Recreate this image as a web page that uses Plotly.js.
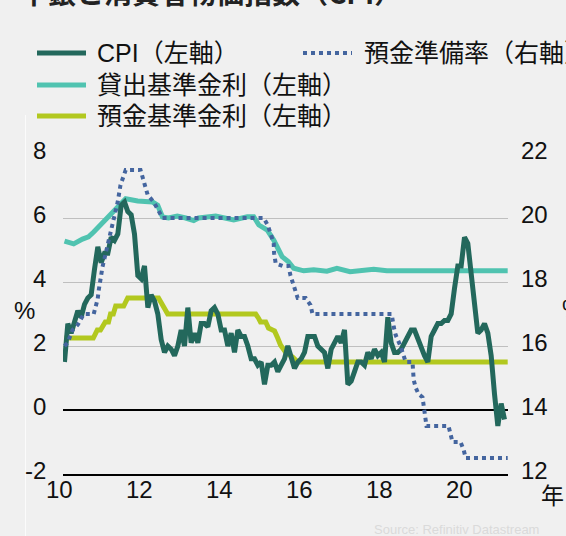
<!DOCTYPE html>
<html>
<head>
<meta charset="utf-8">
<script src="https://cdn.plot.ly/plotly-3.0.1.min.js"></script>
<style>
html,body{margin:0;padding:0;background:#f0f0f0;}
#chart{width:566px;height:536px;}
</style>
</head>
<body>
<div id="chart"></div>
<script>
// ---- Data ----
// CPI (YoY %, monthly, Jan 2010 - Jan 2021)
const cpiStartYear = 2010;
const cpiValues = [
  1.5, 2.7, 2.4, 2.8, 3.1, 2.9, 3.3, 3.5, 3.6, 4.4, 5.1, 4.6,
  4.9, 4.9, 5.4, 5.3, 5.5, 6.4, 6.5, 6.2, 6.1, 5.5, 4.2, 4.1,
  4.5, 3.2, 3.6, 3.4, 3.0, 2.2, 1.8, 2.0, 1.9, 1.7, 2.0, 2.5,
  2.0, 3.2, 2.1, 2.4, 2.1, 2.7, 2.7, 2.6, 3.1, 3.2, 3.0, 2.5,
  2.5, 2.0, 2.4, 1.8, 2.5, 2.3, 2.3, 2.0, 1.6, 1.6, 1.4, 1.5,
  0.8, 1.4, 1.4, 1.5, 1.2, 1.4, 1.6, 2.0, 1.6, 1.3, 1.5, 1.6,
  1.8, 2.3, 2.3, 2.3, 2.0, 1.9, 1.8, 1.3, 1.9, 2.1, 2.3, 2.1,
  2.5, 0.8, 0.9, 1.2, 1.5, 1.5, 1.4, 1.8, 1.6, 1.9, 1.7, 1.8,
  1.5, 2.9, 2.1, 1.8, 1.8, 1.9, 2.1, 2.3, 2.5, 2.5, 2.2, 1.9,
  1.7, 1.5, 2.3, 2.5, 2.7, 2.7, 2.8, 2.8, 3.0, 3.8, 4.5, 4.5,
  5.4, 5.2, 4.3, 3.3, 2.4, 2.5, 2.7, 2.4, 1.7, 0.5, -0.5, 0.2,
  -0.3
];

// Benchmark lending rate (left axis, %)
const lendYears = [2010.0, 2010.23, 2010.45, 2010.6, 2010.73, 2010.9, 2011.08, 2011.23, 2011.4, 2011.53,
  2011.83, 2012.2, 2012.33, 2012.45, 2012.6, 2012.82, 2013.03, 2013.23, 2013.35, 2013.78, 2014.23,
  2014.57, 2014.73, 2014.86, 2015.07, 2015.23, 2015.44, 2015.6, 2015.73, 2015.98, 2016.23, 2016.56,
  2016.81, 2017.14, 2017.73, 2018.06, 2021.08];
const lendValues = [5.28, 5.19, 5.34, 5.41, 5.56, 5.78, 6.0, 6.16, 6.4, 6.6,
  6.53, 6.5, 6.4, 6.03, 6.0, 6.06, 6.0, 5.92, 6.0, 6.06, 5.94,
  6.04, 6.04, 5.78, 5.62, 5.31, 4.79, 4.63, 4.43, 4.35, 4.38, 4.34,
  4.43, 4.32, 4.4, 4.35, 4.35];

// Benchmark deposit rate (left axis, %)
const depYears = [2010.0, 2010.72, 2010.82, 2010.9, 2011.02, 2011.1, 2011.15, 2011.22, 2011.28, 2011.48,
  2011.58, 2012.35, 2012.58, 2014.78, 2014.85, 2014.9, 2015.03, 2015.1, 2015.2, 2015.25, 2015.33,
  2015.4, 2015.53, 2015.6, 2015.7, 2015.83, 2021.08];
const depValues = [2.25, 2.25, 2.5, 2.5, 2.75, 2.75, 3.0, 3.0, 3.25, 3.25,
  3.5, 3.5, 3.0, 3.0, 2.87, 2.75, 2.75, 2.56, 2.5, 2.47, 2.25,
  2.03, 1.8, 1.75, 1.66, 1.5, 1.5];

// Reserve requirement ratio (right axis, %)
const rrrYears = [2010.0, 2010.08, 2010.2, 2010.33, 2010.48, 2010.73, 2010.83, 2010.85, 2010.95, 2011.03,
  2011.1, 2011.2, 2011.28, 2011.33, 2011.4, 2011.53, 2011.9, 2011.98, 2012.08, 2012.23, 2012.35,
  2012.45, 2014.98, 2015.08, 2015.15, 2015.23, 2015.24, 2015.28, 2015.45, 2015.6, 2015.65, 2015.7,
  2015.78, 2015.83, 2016.03, 2016.15, 2016.2, 2018.18, 2018.23, 2018.28, 2018.4, 2018.53, 2018.7,
  2018.73, 2018.78, 2018.85, 2018.95, 2018.98, 2019.03, 2019.05, 2019.6, 2019.65, 2019.7, 2019.9,
  2019.98, 2020.03, 2021.08];
const rrrValues = [16.0, 16.1, 16.5, 16.66, 17.0, 17.0, 17.47, 17.7, 18.47, 18.9,
  19.25, 19.72, 20.16, 20.5, 21.03, 21.5, 21.5, 21.1, 20.72, 20.5, 20.19,
  20.0, 20.0, 19.78, 19.52, 19.21, 18.9, 18.58, 18.5, 18.5, 18.2, 18.0,
  17.75, 17.5, 17.5, 17.28, 17.0, 17.0, 16.6, 16.34, 16.0, 15.5, 15.5,
  14.94, 14.7, 14.5, 14.4, 14.1, 13.84, 13.5, 13.5, 13.2, 13.0, 13.0,
  12.75, 12.5, 12.5];

const xTickVals = [2010, 2012, 2014, 2016, 2018, 2020];
const xTickText = ['10', '12', '14', '16', '18', '20'];
const yLeftTicks = [-2, 0, 2, 4, 6, 8];
const yLeftText = ['-2', '0', '2', '4', '6', '8'];
const yRightTicks = [12, 14, 16, 18, 20, 22];
const yRightText = ['12', '14', '16', '18', '20', '22'];

const seriesNames = {
  cpi: 'CPI（左軸）',
  rrr: '預金準備率（右軸）',
  lend: '貸出基準金利（左軸）',
  dep: '預金基準金利（左軸）'
};

// ---- Styles ----
const C_CPI = '#23685c';
const C_LEND = '#50c3b0';
const C_DEP = '#b2c81f';
const C_RRR = '#44659f';
const TICK_FONT = {family: 'Liberation Sans, Arial, sans-serif', size: 24, color: '#111'};
const TEXT_FAMILY = 'Liberation Sans, Noto Sans CJK JP, sans-serif';

const cpiYears = cpiValues.map((_, i) => cpiStartYear + i / 12);

const traces = [
  {x: depYears, y: depValues, type: 'scatter', mode: 'lines', name: seriesNames.dep,
   line: {color: C_DEP, width: 5}, yaxis: 'y'},
  {x: lendYears, y: lendValues, type: 'scatter', mode: 'lines', name: seriesNames.lend,
   line: {color: C_LEND, width: 5}, yaxis: 'y'},
  {x: cpiYears, y: cpiValues, type: 'scatter', mode: 'lines', name: seriesNames.cpi,
   line: {color: C_CPI, width: 5}, yaxis: 'y'},
  {x: rrrYears, y: rrrValues, type: 'scatter', mode: 'lines', name: seriesNames.rrr,
   line: {color: C_RRR, width: 4, dash: 'dot'}, yaxis: 'y2'}
];

// plot area in pixels: left 63, right 508, top 154, bottom 474
const PL = 63, PR = 508, PT = 154, PB = 474;
const px = v => (v - PL) / (PR - PL);
const py = v => (PB - v) / (PB - PT);

const legendRows = [
  {col: 0, y: 53, name: seriesNames.cpi, color: C_CPI, width: 5, dash: 'solid'},
  {col: 1, y: 53, name: seriesNames.rrr, color: C_RRR, width: 4, dash: 'dot'},
  {col: 0, y: 85, name: seriesNames.lend, color: C_LEND, width: 5, dash: 'solid'},
  {col: 0, y: 116, name: seriesNames.dep, color: C_DEP, width: 5, dash: 'solid'}
];
const colX = [{x0: 37, x1: 86, tx: 95}, {x0: 303, x1: 352, tx: 362}];

const shapes = [];
const annotations = [];
legendRows.forEach(r => {
  const c = colX[r.col];
  shapes.push({type: 'line', xref: 'paper', yref: 'paper', x0: px(c.x0), x1: px(c.x1),
    y0: py(r.y), y1: py(r.y), line: {color: r.color, width: r.width, dash: r.dash}});
  annotations.push({xref: 'paper', yref: 'paper', x: px(c.tx), y: py(r.y), xanchor: 'left', yanchor: 'middle',
    text: r.name, showarrow: false, font: {family: TEXT_FAMILY, size: 25, color: '#111'}});
});

// tick labels
xTickVals.forEach((v, i) => annotations.push({xref: 'x', yref: 'paper', x: v, y: py(489), xshift: -5,
  xanchor: 'center', yanchor: 'middle', text: xTickText[i], showarrow: false, font: TICK_FONT}));
yLeftTicks.forEach((v, i) => annotations.push({xref: 'paper', yref: 'y', x: px(48), y: v, yshift: 3.5,
  xanchor: 'right', yanchor: 'middle', text: yLeftText[i], showarrow: false, font: TICK_FONT}));
yRightTicks.forEach((v, i) => annotations.push({xref: 'paper', yref: 'y2', x: px(519), y: v, yshift: 3.5,
  xanchor: 'left', yanchor: 'middle', text: yRightText[i], showarrow: false, font: TICK_FONT}));

// faint panel edge line
shapes.push({type: 'line', xref: 'paper', yref: 'paper', x0: px(25.5), x1: px(25.5), y0: py(115), y1: py(540),
  line: {color: '#fbfbfb', width: 1}});

annotations.push(
  {xref: 'paper', yref: 'paper', x: px(24), y: py(310), xanchor: 'center', yanchor: 'middle',
   text: '%', showarrow: false, font: {family: TEXT_FAMILY, size: 24, color: '#111'}},
  {xref: 'paper', yref: 'paper', x: px(560), y: py(308), xanchor: 'left', yanchor: 'middle',
   text: '%', showarrow: false, font: {family: TEXT_FAMILY, size: 24, color: '#111'}},
  {xref: 'paper', yref: 'paper', x: px(552), y: py(494), xanchor: 'center', yanchor: 'middle',
   text: '年', showarrow: false, font: {family: 'Noto Sans CJK JP, sans-serif', size: 23, color: '#111'}},
  {xref: 'paper', yref: 'paper', x: px(541), y: py(529), xanchor: 'right', yanchor: 'middle',
   text: 'Source: Refinitiv Datastream', showarrow: false,
   font: {family: 'Liberation Sans, Arial, sans-serif', size: 13, color: '#dadada'}},
  {xref: 'paper', yref: 'paper', x: px(18), y: py(-8), xanchor: 'left', yanchor: 'middle',
   text: '<b>中銀と消費者物価指数（CPI）</b>', showarrow: false,
   font: {family: 'Noto Sans CJK JP, sans-serif', size: 28, color: '#222'}}
);

const layout = {
  width: 566, height: 536,
  paper_bgcolor: '#f0f0f0', plot_bgcolor: '#f0f0f0',
  margin: {l: PL, r: 566 - PR, t: PT, b: 536 - PB, pad: 0},
  showlegend: false,
  xaxis: {
    range: [2009.9625, 2021.0875],
    tickvals: xTickVals, showticklabels: false,
    showgrid: false, zeroline: false,
    showline: true, linecolor: '#000', linewidth: 1.5,
    ticks: '', fixedrange: true
  },
  yaxis: {
    range: [-2, 8],
    tickvals: yLeftTicks, showticklabels: false,
    showgrid: true, gridcolor: '#bfbfbf', gridwidth: 1,
    zeroline: true, zerolinecolor: '#000', zerolinewidth: 1.5,
    showline: false, ticks: '', fixedrange: true
  },
  yaxis2: {
    range: [12, 22], overlaying: 'y', side: 'right',
    tickvals: yRightTicks, showticklabels: false,
    showgrid: false, zeroline: false, showline: false,
    ticks: '', fixedrange: true
  },
  shapes: shapes,
  annotations: annotations
};

Plotly.newPlot('chart', traces, layout, {displayModeBar: false, staticPlot: true});
</script>
</body>
</html>
